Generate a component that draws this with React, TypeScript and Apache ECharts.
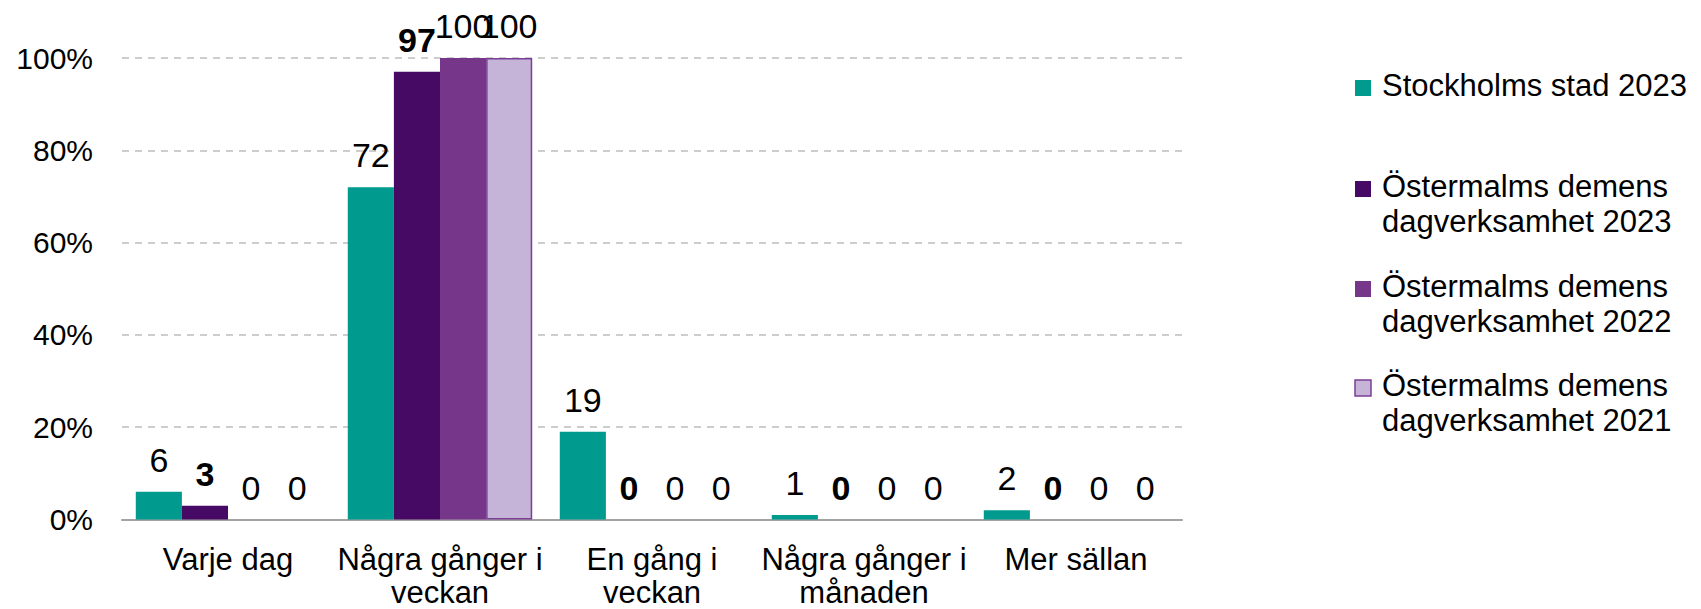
import React, { useEffect, useRef } from "react";
import * as echarts from "echarts";

const categories = [
  "Varje dag",
  "Några gånger i\nveckan",
  "En gång i\nveckan",
  "Några gånger i\nmånaden",
  "Mer sällan",
];

const seriesNames = [
  "Stockholms stad 2023",
  "Östermalms demens dagverksamhet 2023",
  "Östermalms demens dagverksamhet 2022",
  "Östermalms demens dagverksamhet 2021",
];

const legendLabels = [
  "Stockholms stad 2023",
  "Östermalms demens\ndagverksamhet 2023",
  "Östermalms demens\ndagverksamhet 2022",
  "Östermalms demens\ndagverksamhet 2021",
];

const stockholm2023 = [6, 72, 19, 1, 2];
const ostermalm2023 = [3, 97, 0, 0, 0];
const ostermalm2022 = [0, 100, 0, 0, 0];
const ostermalm2021 = [0, 100, 0, 0, 0];

const yTicks = [0, 20, 40, 60, 80, 100];

const colors = ["#009A8F", "#470A64", "#76378B", "#C5B3D8"];
const borderColors = ["#009A8F", "#470A64", "#76378B", "#7B3F95"];
const labelBold = [false, true, false, false];

export default function App() {
  const ref = useRef<HTMLDivElement>(null);

  useEffect(() => {
    document.body.style.margin = "0";
    const chart = echarts.init(ref.current!, null, { renderer: "svg" });
    const values = [stockholm2023, ostermalm2023, ostermalm2022, ostermalm2021];
    const font = "'Liberation Sans', Arial, sans-serif";

    const legendGraphics: any[] = [];
    const legendCenters = [88, 189, 289, 388];
    legendLabels.forEach((txt, i) => {
      legendGraphics.push({
        type: "rect",
        shape: { x: 1355, y: legendCenters[i] - 8, width: 16, height: 16 },
        style: {
          fill: colors[i],
          stroke: borderColors[i],
          lineWidth: i === 3 ? 1.5 : 0,
        },
      });
      legendGraphics.push({
        type: "text",
        x: 1382,
        y: legendCenters[i] - 20.5,
        style: {
          text: txt,
          fontSize: 31,
          lineHeight: 35,
          fontFamily: font,
          fill: "#000",
          verticalAlign: "top",
          align: "left",
        },
      });
    });

    chart.setOption({
      animation: false,
      textStyle: { fontFamily: font },
      grid: {
        left: 122,
        right: 519,
        top: 58,
        bottom: 89.5,
        containLabel: false,
        outerBoundsMode: "none",
      },
      xAxis: {
        type: "category",
        data: categories,
        axisLine: { lineStyle: { color: "#A3A3A3", width: 2 } },
        axisTick: { length: 9, lineStyle: { color: "#A3A3A3", width: 2 } },
        axisLabel: {
          fontSize: 31,
          color: "#000",
          lineHeight: 33,
          margin: 23,
          interval: 0,
          fontFamily: font,
        },
      },
      yAxis: {
        type: "value",
        min: yTicks[0],
        max: yTicks[yTicks.length - 1],
        interval: 20,
        axisLine: { show: false },
        axisTick: { show: false },
        axisLabel: {
          fontSize: 30,
          color: "#000",
          margin: 29,
          formatter: "{value}%",
          fontFamily: font,
        },
        splitLine: {
          lineStyle: { color: "#BDBDBD", type: [7, 6], width: 1.5 },
        },
      },
      series: seriesNames.map((name, i) => ({
        name,
        type: "bar",
        data: values[i].map((v) => ({
          value: v,
          itemStyle: {
            borderWidth: i === 3 && v > 0 ? 1.5 : 0,
          },
        })),
        barGap: "0%",
        barCategoryGap: "13%",
        itemStyle: {
          color: colors[i],
          borderColor: borderColors[i],
          borderWidth: 0,
        },
        label: {
          show: true,
          position: "top",
          distance: 15,
          fontSize: 34,
          color: "#000",
          fontWeight: labelBold[i] ? "bold" : "normal",
          fontFamily: font,
        },
      })),
      graphic: legendGraphics,
    });

    return () => chart.dispose();
  }, []);

  return <div ref={ref} style={{ width: 1701, height: 609 }} />;
}
